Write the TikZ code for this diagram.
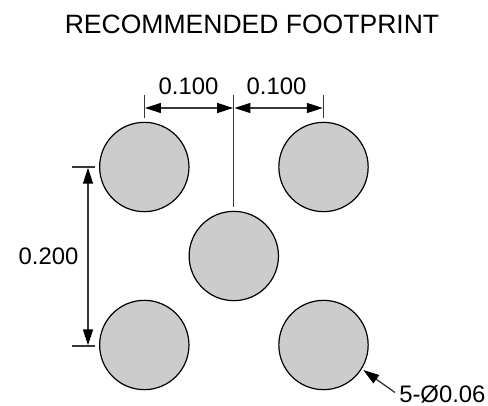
\documentclass[tikz,border=0pt]{standalone}
\usepackage{fontspec}
\setmainfont{Liberation Sans}
\usetikzlibrary{arrows.meta}
\definecolor{padfill}{gray}{0.8}
\definecolor{dimline}{gray}{0.22}
\tikzset{
 pad/.style={circle,draw=black,fill=padfill,line width=0.9pt,minimum size=67pt,inner sep=0pt},
 lbl/.style={inner sep=0pt,font=\fontsize{17.9pt}{20pt}\selectfont},
 ttl/.style={inner sep=0pt,font=\fontsize{19.9pt}{22pt}\selectfont},
 tip/.tip={Triangle[length=12pt,width=7.5pt,color=black]},
 dim/.style={draw=dimline,line width=1pt,tip-tip,shorten >=0.5pt,shorten <=0.5pt},
 ext/.style={draw=dimline,line width=1pt},
}
\begin{document}
\begin{tikzpicture}[x=0.75pt,y=-0.75pt]
\useasboundingbox (0,0) rectangle (488,406);
\node[ttl] (title) at (252,24) {RECOMMENDED FOOTPRINT};
\node[pad] (p1) at (144.3,167) {};
\node[pad] (p2) at (323.5,167) {};
\node[pad] (p3) at (233.8,256) {};
\node[pad] (p4) at (144.3,345) {};
\node[pad] (p5) at (323.5,345) {};
\coordinate (t1) at (144.3,95);
\coordinate (b1) at (144.3,118);
\coordinate (t2) at (323.5,95);
\coordinate (b2) at (323.5,118);
\coordinate (t3) at (233.8,95);
\coordinate (b3) at (233.8,207);
\draw[ext] (t1)--(b1);
\draw[ext] (t2)--(b2);
\draw[ext] (t3)--(b3);
\coordinate (a1) at (144.3,108);
\coordinate (a2) at (233.8,108);
\coordinate (a3) at (323.5,108);
\draw[dim] (a1)--(a2);
\draw[dim] (a2)--(a3);
\node[lbl] (d1) at (188.5,86) {0.100};
\node[lbl] (d2) at (276.5,86) {0.100};
\coordinate (l1) at (72,167);
\coordinate (r1) at (95,167);
\coordinate (l2) at (72,346);
\coordinate (r2) at (95,346);
\draw[ext] (l1)--(r1);
\draw[ext] (l2)--(r2);
\coordinate (v1) at (88,167);
\coordinate (v2) at (88,346);
\draw[dim] (v1)--(v2);
\node[lbl] (d3) at (48.5,256.7) {0.200};
\node[lbl,anchor=west] (d4) at (399,394) {5-Ø0.06};
\coordinate (tail) at (395,392.5);
\coordinate (head) at (363.3,370);
\draw[draw=dimline,line width=1pt,-tip] (tail)--(head);
\end{tikzpicture}
\end{document}
